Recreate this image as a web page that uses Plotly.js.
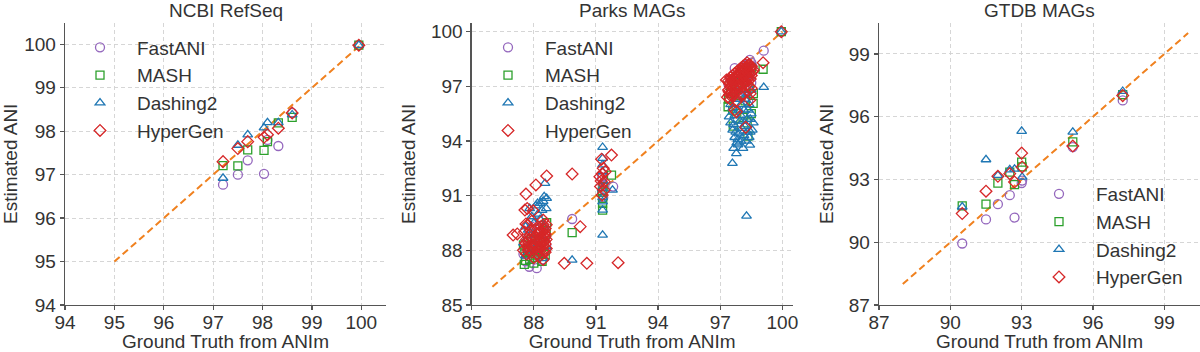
<!DOCTYPE html>
<html>
<head>
<meta charset="utf-8">
<script src="https://cdn.plot.ly/plotly-3.0.1.min.js"></script>
<style>html,body{margin:0;padding:0;background:#fff;}#chart{width:1200px;height:352px;}</style>
</head>
<body>
<div id="chart"></div>
<script>
// ---------------- data ----------------
const methods = ['FastANI', 'MASH', 'Dashing2', 'HyperGen'];
const panelTitles = ['NCBI RefSeq', 'Parks MAGs', 'GTDB MAGs'];

// NCBI RefSeq (shared ground-truth x)
const ncbiX        = [97.2, 97.5, 97.7, 98.03, 98.1, 98.32, 98.6, 99.95];
const ncbiFastANI  = [96.77, 97.0, 97.33, 97.02, 97.8, 97.66, 98.42, 99.98];
const ncbiMASH     = [97.21, 97.2, 97.57, 97.56, 97.76, 98.19, 98.32, 99.98];
const ncbiDashing2 = [96.92, 97.68, 97.92, 98.08, 98.2, 98.2, 98.38, 99.98];
const ncbiHyperGen = [97.3, 97.6, 97.76, 97.86, 97.92, 98.07, 98.42, 99.98];

// GTDB MAGs (shared ground-truth x)
const gtdbX        = [90.5, 91.5, 92.0, 92.5, 92.7, 93.0, 93.02, 95.15, 97.25];
const gtdbFastANI  = [89.94, 91.09, 91.82, 92.25, 91.18, 92.83, 92.95, 94.55, 96.78];
const gtdbMASH     = [91.74, 91.82, 92.83, 93.35, 92.75, 93.83, 93.6, 94.8, 97.05];
const gtdbDashing2 = [91.69, 93.95, 93.2, 93.47, 93.5, 95.31, 93.12, 95.27, 97.22];
const gtdbHyperGen = [91.37, 92.44, 93.15, 93.28, 92.88, 94.26, 93.6, 94.6, 97.01];

// Parks MAGs: [ground truth, estimate] pairs
const parksFastANI = [
  [97.7,98.0],[98.43,98.45],[99.1,98.96],[99.95,100.0],[97.5,97.4],[97.8,97.6],[98.0,97.8],[98.2,98.0],
  [98.3,98.2],[98.5,98.3],[97.6,96.9],[97.9,97.2],[98.1,97.5],[98.4,97.7],[98.5,97.2],[98.2,96.8],
  [97.8,96.5],[98.35,96.2],[97.4,97.1],[98.1,98.1],[98.55,98.1],
  [91.83,91.5],[91.32,91.6],[91.3,91.2],[91.35,90.9],[91.3,92.0],
  [89.85,89.72],
  [88.14,87.02],[87.78,87.1],[88.4,87.5],[88.6,88.3],[87.6,87.4],[87.9,87.6],[88.2,87.8],[88.5,87.9],
  [87.7,88.1],[88.0,88.3],[88.3,88.6],[88.6,88.8],[87.5,87.8],[88.1,89.0],[87.9,89.3]
];
const parksMASH = [
  [99.95,100.0],[99.07,97.94],[97.38,95.88],[97.63,94.82],[98.34,94.27],[98.59,96.07],[97.4,96.3],
  [97.5,96.6],[97.7,96.8],[97.9,97.2],[98.1,97.5],[98.3,97.8],[98.5,98.0],[98.6,96.6],[98.5,95.5],
  [98.3,95.0],[98.1,95.3],[97.8,95.5],[97.6,95.7],[98.2,96.2],[98.4,96.9],[98.0,96.5],
  [91.75,92.13],[91.32,90.21],[91.32,90.58],[91.32,90.85],[91.3,91.2],[91.35,91.5],
  [89.85,88.97],
  [87.54,87.23],[87.8,87.5],[88.1,87.6],[88.4,87.4],[88.55,87.77],[87.57,88.0],[87.97,88.23],
  [88.62,89.52],[87.7,87.9],[88.2,88.0],[87.6,87.45],[88.0,87.3],[88.3,87.9],[88.5,88.3],
  [87.9,88.6],[88.6,88.9],[87.5,88.3],[88.2,88.5]
];
const parksDashing2 = [
  [99.95,100.0],[99.1,96.95],[98.27,89.88],[97.59,92.78],[97.78,93.32],[98.43,93.78],[97.86,93.8],
  [97.43,95.33],[97.5,95.0],[97.6,94.6],[97.7,94.2],[97.8,93.9],[98.4,94.2],[98.3,94.5],[98.2,94.8],
  [98.1,95.1],[98.0,95.4],[97.9,95.7],[98.3,95.2],[98.5,95.5],[98.4,96.0],[98.2,96.3],[98.0,96.0],
  [97.8,96.3],[97.6,95.8],[97.9,94.4],[98.0,94.0],[98.1,93.6],[97.7,95.4],[98.3,96.6],[98.5,96.8],
  [98.1,96.8],[97.9,97.0],[98.2,97.3],[98.4,97.6],[98.6,95.0],[98.0,97.6],[98.3,97.9],[97.5,96.0],
  [98.55,94.6],[98.45,95.2],[97.65,94.9],[97.75,94.5],[97.85,94.1],[98.15,94.3],[98.25,94.0],
  [98.05,94.7],[97.95,95.1],[98.35,95.7],[98.15,95.7],[97.65,93.6],[98.45,94.5],
  [91.32,93.66],[91.32,93.05],[91.32,92.7],[91.32,92.32],[91.32,88.84],[91.8,91.31],[91.32,90.21],
  [91.32,90.67],[91.35,91.8],[91.3,91.4],[91.32,90.9],
  [89.85,87.47],
  [88.54,91.68],[88.62,90.86],[88.5,90.95],[88.45,90.7],[88.3,90.58],[88.18,90.58],[88.1,90.45],
  [87.9,89.85],[87.73,89.12],[88.05,88.9],[88.3,89.7],[88.45,87.55],[87.6,89.3],[87.5,88.4],
  [87.7,88.8],[88.0,89.5],[88.2,90.0],[88.4,90.2],[88.6,90.3],[87.8,90.3],[88.5,89.3],[88.2,88.4],
  [87.6,87.7],[88.0,88.0],[88.3,88.8],[88.6,88.2]
];
const parksHyperGen = [
  [99.95,100.0],[99.07,98.3],[97.43,96.71],[97.7,95.7],[98.43,96.25],[98.23,94.75],[97.78,95.6],
  [97.3,97.35],[97.4,97.3],[97.5,97.5],[97.6,97.6],[97.7,97.7],[97.8,97.8],[97.9,97.9],[98.0,98.0],
  [98.1,98.1],[98.2,98.2],[98.3,98.3],[98.4,98.2],[98.5,98.1],[97.5,97.0],[97.6,97.2],[97.7,97.4],
  [97.8,97.5],[97.9,97.6],[98.0,97.7],[98.1,97.8],[98.2,97.9],[98.3,98.0],[98.4,97.8],[98.5,97.6],
  [98.3,97.5],[98.2,97.3],[98.1,97.1],[98.0,96.9],[97.9,97.1],[97.8,96.8],[97.7,96.6],[97.6,96.5],
  [97.5,96.3],[97.8,96.2],[98.0,96.5],[98.4,97.0],[98.5,96.9],[97.4,96.8],[97.35,96.4],[98.6,97.9],
  [98.45,96.6],[98.3,97.1],[98.1,96.6],[97.95,97.4],[98.05,97.95],[98.25,97.65],
  [97.45,97.15],[97.55,97.35],[97.65,97.45],[97.75,97.55],[97.85,97.65],[97.95,97.75],[98.05,97.85],
  [98.15,97.95],[98.25,98.05],[98.35,98.15],[98.45,98.0],[98.55,97.8],[98.35,97.3],[98.15,97.2],
  [97.65,96.9],[97.85,97.0],[98.05,97.3],[98.25,97.45],[98.45,97.4],[97.55,96.7],[97.75,97.1],
  [98.15,97.6],[98.35,97.75],[97.45,96.55],
  [91.75,93.23],[91.27,93.0],[91.19,92.04],[91.4,91.77],[91.22,91.5],[91.45,92.32],[91.3,91.04],
  [91.3,92.2],[91.35,92.5],[91.25,91.8],[91.4,91.3],
  [89.47,87.29],[90.56,87.29],[92.07,87.32],[89.85,92.19],[90.24,89.3],
  [88.62,92.08],[88.1,91.59],[87.62,91.09],[87.57,90.21],[87.97,90.17],[88.45,89.66],[87.0,88.84],
  [87.2,88.9],[87.62,89.45],[87.7,89.4],[87.9,89.6],[88.2,89.2],[88.3,89.0],[88.5,88.9],[88.6,89.4],
  [88.53,88.75],[88.38,88.4],[88.21,88.02],[87.73,88.02],[87.6,88.4],[87.7,88.2],[87.8,88.6],
  [88.0,88.3],[88.1,88.7],[88.3,88.6],[88.4,88.2],[88.5,88.5],[88.6,88.1],[88.45,87.5],[88.2,87.8],
  [87.9,87.9],[87.65,87.8],[88.0,87.6],[88.55,88.9],[88.35,89.3],[88.45,88.0],[88.25,88.4],
  [88.15,88.9],[88.6,88.6],[87.5,88.0],[87.85,89.1],[88.55,89.2],[87.55,89.0],[87.62,88.39],[87.68,90.3],
  [88.25,88.95],[88.35,88.75],[88.45,88.6],[88.55,88.35],[88.3,88.2],[88.4,87.8],[88.25,87.65],
  [88.55,87.9],[88.35,89.1],[88.45,89.4],[88.5,89.1],[87.75,88.4],[87.85,88.25],[87.95,88.1],
  [87.65,88.6],[87.8,88.85]
];

// identity reference line ends per panel
const diagNCBI  = [95, 100];
const diagParks = [86, 100];
const diagGTDB  = [88, 100];

// ---------------- styling ----------------
const colors  = {FastANI:'#9467bd', MASH:'#2ca02c', Dashing2:'#1f77b4', HyperGen:'#d62728'};
const symbols = {FastANI:'circle-open', MASH:'square-open', Dashing2:'triangle-up-open', HyperGen:'diamond-open'};
const sizes   = {FastANI:9, MASH:8, Dashing2:8.5, HyperGen:9};
const txt = '#333333', axc = '#555555';
const FONT = 'Liberation Sans, Arial, sans-serif';

function mk(name, x, y, xa, ya, leg) {
  return {type:'scatter', mode:'markers', name:name, x:x, y:y, xaxis:xa, yaxis:ya,
    legend:leg, showlegend:true, cliponaxis:false,
    marker:{symbol:symbols[name], size:sizes[name], color:colors[name], line:{width:1.3, color:colors[name]}}};
}
function diag(e, xa, ya) {
  return {type:'scatter', mode:'lines', x:e, y:e, xaxis:xa, yaxis:ya, showlegend:false, hoverinfo:'skip',
    line:{color:'#f0811f', width:2, dash:'7px,4px'}};
}

const traces = [];
traces.push(diag(diagNCBI, 'x', 'y'));
traces.push(mk('FastANI', ncbiX, ncbiFastANI, 'x', 'y', 'legend'));
traces.push(mk('MASH', ncbiX, ncbiMASH, 'x', 'y', 'legend'));
traces.push(mk('Dashing2', ncbiX, ncbiDashing2, 'x', 'y', 'legend'));
traces.push(mk('HyperGen', ncbiX, ncbiHyperGen, 'x', 'y', 'legend'));

traces.push(diag(diagParks, 'x2', 'y2'));
const parks = {FastANI:parksFastANI, MASH:parksMASH, Dashing2:parksDashing2, HyperGen:parksHyperGen};
methods.forEach(m => traces.push(mk(m, parks[m].map(p=>p[0]), parks[m].map(p=>p[1]), 'x2', 'y2', 'legend2')));

traces.push(diag(diagGTDB, 'x3', 'y3'));
traces.push(mk('FastANI', gtdbX, gtdbFastANI, 'x3', 'y3', 'legend3'));
traces.push(mk('MASH', gtdbX, gtdbMASH, 'x3', 'y3', 'legend3'));
traces.push(mk('Dashing2', gtdbX, gtdbDashing2, 'x3', 'y3', 'legend3'));
traces.push(mk('HyperGen', gtdbX, gtdbHyperGen, 'x3', 'y3', 'legend3'));

const W = 1200, H = 352;
const yDom = [(H-305)/H, (H-22.6)/H];
function xax(dom, lo, dt, ya) {
  return {domain:dom, range:[lo, 100.5], tick0:lo, dtick:dt, anchor:ya,
    showline:true, linecolor:axc, linewidth:1.3, ticks:'outside', ticklen:4, tickwidth:1.3, tickcolor:axc,
    ticklabelstandoff:-4,
    showgrid:true, gridcolor:'#d2d2d2', gridwidth:0.9, griddash:'4px,3px', zeroline:false,
    tickfont:{family:FONT, size:19, color:txt},
    title:{text:'Ground Truth from ANIm', font:{family:FONT, size:19, color:txt}, standoff:6}};
}
function yax(lo, dt, xa) {
  return {domain:yDom, range:[lo, 100.5], tick0:lo, dtick:dt, anchor:xa,
    showline:true, linecolor:axc, linewidth:1.3, ticks:'outside', ticklen:4, tickwidth:1.3, tickcolor:axc,
    showgrid:true, gridcolor:'#d2d2d2', gridwidth:0.9, griddash:'4px,3px', zeroline:false,
    tickfont:{family:FONT, size:19, color:txt},
    title:{text:'Estimated ANI', font:{family:FONT, size:19, color:txt}, standoff:10}};
}
function leg(xpx, ypx) {
  return {x:xpx/W, y:1-ypx/H, xanchor:'left', yanchor:'top', bgcolor:'rgba(0,0,0,0)', borderwidth:0,
    itemwidth:64, font:{family:FONT, size:19, color:txt}, itemclick:false};
}
const d1 = [65/W, 386/W], d2 = [471.7/W, 792.7/W], d3 = [879/W, 1.0];
const layout = {
  width:W, height:H, margin:{l:0, r:0, t:0, b:0}, paper_bgcolor:'#fff', plot_bgcolor:'#fff',
  font:{family:FONT, color:txt}, showlegend:true,
  xaxis:xax(d1, 94, 1, 'y'),   yaxis:yax(94, 1, 'x'),
  xaxis2:xax(d2, 85, 3, 'y2'), yaxis2:yax(85, 3, 'x2'),
  xaxis3:xax(d3, 87, 3, 'y3'), yaxis3:yax(87, 3, 'x3'),
  legend:leg(63, 28.5), legend2:leg(471, 28.5), legend3:leg(1022, 175),
  annotations:[
    {text:panelTitles[0], xref:'paper', yref:'paper', x:(d1[0]+d1[1])/2, y:1-10/H, xanchor:'center', yanchor:'middle', showarrow:false, font:{family:FONT, size:19, color:txt}},
    {text:panelTitles[1], xref:'paper', yref:'paper', x:(d2[0]+d2[1])/2, y:1-10/H, xanchor:'center', yanchor:'middle', showarrow:false, font:{family:FONT, size:19, color:txt}},
    {text:panelTitles[2], xref:'paper', yref:'paper', x:(d3[0]+d3[1])/2, y:1-10/H, xanchor:'center', yanchor:'middle', showarrow:false, font:{family:FONT, size:19, color:txt}}
  ]
};
Plotly.newPlot('chart', traces, layout, {staticPlot:true, displayModeBar:false});
</script>
</body>
</html>
